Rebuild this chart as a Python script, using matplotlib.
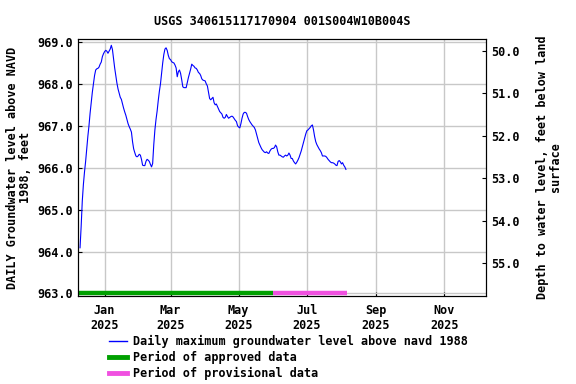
import numpy as np
import matplotlib
matplotlib.use("Agg")
import matplotlib.pyplot as plt
from matplotlib.lines import Line2D

# ---- data ----
start_date = "2025-01-01"
day_offsets = list(range(-22, 217))
levels = [
    964.09, 964.6, 965.2, 965.6, 965.9, 966.15, 966.45, 966.75, 967.0, 967.3,
    967.55, 967.8, 968.0, 968.2, 968.33, 968.36, 968.37, 968.4, 968.47, 968.52,
    968.65, 968.72, 968.77, 968.8, 968.78, 968.73, 968.78, 968.83, 968.92, 968.82,
    968.6, 968.38, 968.2, 968.02, 967.88, 967.78, 967.68, 967.63, 967.52, 967.42,
    967.33, 967.25, 967.15, 967.05, 966.98, 966.92, 966.85, 966.62, 966.45, 966.36,
    966.28, 966.26, 966.28, 966.32, 966.3, 966.2, 966.06, 966.05, 966.05, 966.15,
    966.2, 966.18, 966.15, 966.08, 966.02, 966.1, 966.55, 966.9, 967.15, 967.35,
    967.6, 967.82, 968.0, 968.25, 968.5, 968.7, 968.83, 968.86, 968.8, 968.68,
    968.6, 968.58, 968.53, 968.51, 968.5, 968.45, 968.38, 968.17, 968.29,
    968.33, 968.25, 968.1, 967.93, 967.91, 967.91, 967.91, 968.03, 968.15, 968.25,
    968.35, 968.47, 968.44, 968.42, 968.38, 968.37, 968.33, 968.27, 968.25, 968.2,
    968.12, 968.09, 968.08, 968.07, 968.0, 967.95, 967.8, 967.65, 967.62, 967.65,
    967.68, 967.55, 967.5, 967.52, 967.46, 967.4, 967.34, 967.31, 967.28, 967.2,
    967.18, 967.2, 967.27, 967.22, 967.18, 967.2, 967.22, 967.23, 967.21, 967.17,
    967.13, 967.1, 967.0, 966.97, 966.95, 967.05, 967.18, 967.28, 967.32, 967.32,
    967.3, 967.22, 967.15, 967.1, 967.06, 967.02, 966.99, 966.96, 966.9, 966.8,
    966.7, 966.6, 966.54, 966.48, 966.43, 966.4, 966.37, 966.36, 966.38, 966.35,
    966.34, 966.4, 966.44, 966.46, 966.46, 966.48, 966.54, 966.5, 966.38, 966.3,
    966.3, 966.28, 966.26, 966.25, 966.28, 966.3, 966.28, 966.3, 966.35, 966.3,
    966.22, 966.22, 966.16, 966.12, 966.09, 966.13, 966.18, 966.24, 966.32, 966.4,
    966.5, 966.6, 966.7, 966.8, 966.88, 966.9, 966.93, 966.96, 967.0, 967.02,
    966.9, 966.74, 966.62, 966.55, 966.5, 966.45, 966.41, 966.36, 966.28, 966.28,
    966.28, 966.27, 966.24, 966.2, 966.17, 966.14, 966.12, 966.12, 966.11, 966.09,
    966.06, 966.05, 966.15, 966.17, 966.14, 966.09, 966.12, 966.06, 966.02, 965.96,
]
approved_period = ["2024-12-08", "2025-06-01"]
provisional_period = ["2025-06-01", "2025-08-06"]
period_level = 963.0

title = "USGS 340615117170904 001S004W10B004S"
left_ticks = [963.0, 964.0, 965.0, 966.0, 967.0, 968.0, 969.0]
right_ticks = [50.0, 51.0, 52.0, 53.0, 54.0, 55.0]
x_tick_dates = ["2025-01-01", "2025-03-01", "2025-05-01", "2025-07-01", "2025-09-01", "2025-11-01"]
x_tick_labels = ["Jan\n2025", "Mar\n2025", "May\n2025", "Jul\n2025", "Sep\n2025", "Nov\n2025"]
legend_labels = ["Daily maximum groundwater level above navd 1988",
                 "Period of approved data", "Period of provisional data"]

# ---- plot ----
plt.rcParams['font.family'] = ['DejaVu Sans Mono']
plt.rcParams['font.weight'] = 'bold'
fs = 8.5

dates = np.datetime64(start_date) + np.array(day_offsets).astype('timedelta64[D]')

fig = plt.figure(figsize=(5.76, 3.84), dpi=100)
ax = fig.add_axes([0.1354, 0.2292, 0.7092, 0.6692])

ax.grid(True, color="#c8c8c8", linewidth=1.0)
ax.set_axisbelow(True)

line_color = "#0000ff"
green = "#00a000"
pink = "#f050e0"

ax.plot(dates, levels, color=line_color, linewidth=0.8)
ax.plot(np.array(approved_period, dtype='datetime64[D]'), [period_level] * 2,
        color=green, linewidth=3.2, solid_capstyle='butt')
ax.plot(np.array(provisional_period, dtype='datetime64[D]'), [period_level] * 2,
        color=pink, linewidth=3.2, solid_capstyle='butt')

ax.set_xlim(np.datetime64("2024-12-08T04:00"), np.datetime64("2025-12-08T20:00"))
ax.set_ylim(962.94, 969.07)
ax.set_yticks(left_ticks)
ax.set_yticklabels([f"{v:.1f}" for v in left_ticks], fontsize=fs, fontweight='bold')
ax.set_xticks(np.array(x_tick_dates, dtype='datetime64[D]'))
ax.set_xticklabels(x_tick_labels, fontsize=fs, fontweight='bold')
ax.tick_params(axis='both', direction='in', length=3)
ax.tick_params(axis='x', pad=6)
ax.set_ylabel("DAILY Groundwater level above NAVD\n1988, feet", fontsize=fs,
              fontweight='bold', linespacing=1.0)
ax.set_title(title, fontsize=fs, fontweight='bold', pad=10)

ax2 = ax.twinx()
ax2.set_ylim(55.77, 49.73)
ax2.set_yticks(right_ticks)
ax2.set_yticklabels([f"{v:.1f}" for v in right_ticks], fontsize=fs, fontweight='bold')
ax2.tick_params(axis='y', direction='in', length=3)
ax2.set_ylabel("Depth to water level, feet below land\nsurface", fontsize=fs,
               fontweight='bold', linespacing=1.0, rotation=90)
ax2.yaxis.set_label_coords(1.12, 0.5)

handles = [Line2D([], [], color=line_color, linewidth=1.0),
           Line2D([], [], color=green, linewidth=3.5),
           Line2D([], [], color=pink, linewidth=3.5)]
fig.legend(handles, legend_labels, loc='upper left', bbox_to_anchor=(0.189, 0.128),
           frameon=False, fontsize=fs, handlelength=1.55, handletextpad=0.5,
           labelspacing=0.25, borderaxespad=0, borderpad=0)

fig.savefig("out.png", dpi=100)
